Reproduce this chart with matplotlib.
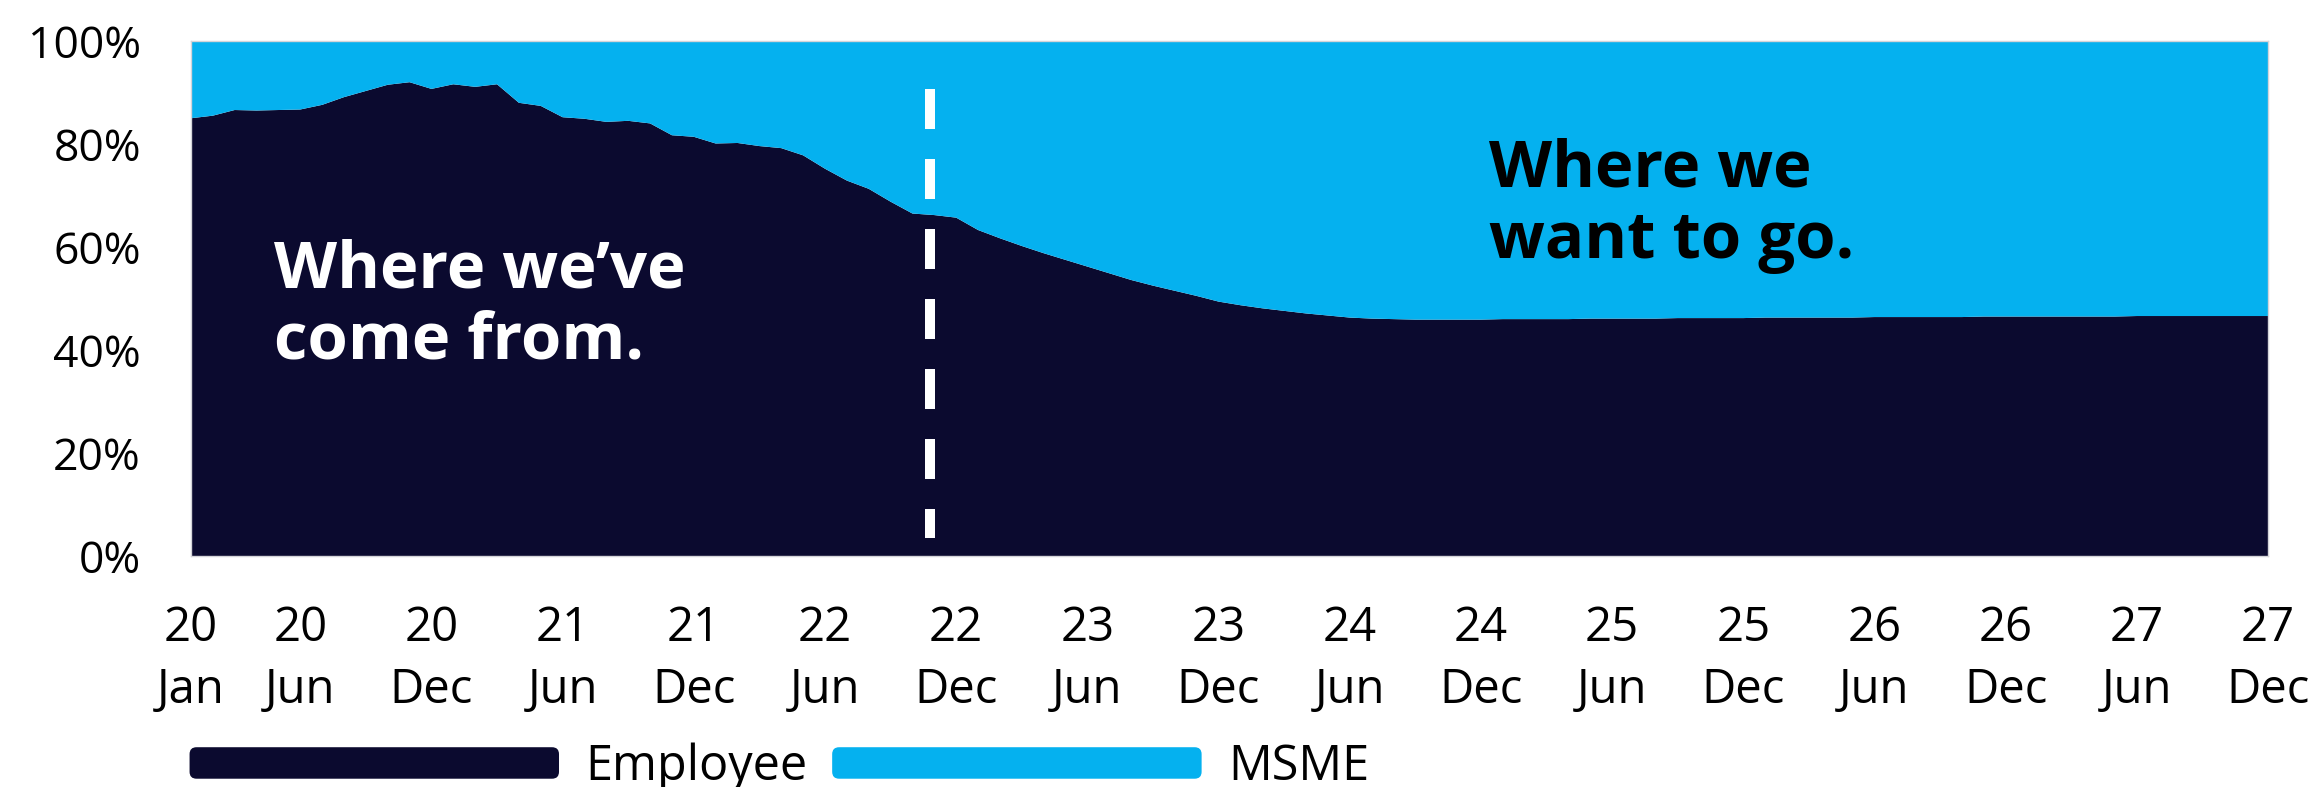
import matplotlib
matplotlib.use("Agg")
import matplotlib.pyplot as plt
import numpy as np
import pandas as pd
from matplotlib.patches import FancyBboxPatch, Patch
from matplotlib.legend_handler import HandlerPatch

plt.rcParams['font.family'] = ['Open Sans', 'DejaVu Sans']

# monthly series, Jan 2020 .. Dec 2027
months = pd.date_range('2020-01-01', '2027-12-01', freq='MS')

# employee share of the total (%), MSME is the rest
employee = [
    85.0, 85.5, 86.6, 86.5, 86.6, 86.7, 87.6, 89.1, 90.3, 91.5, 92.0, 90.7,   # 2020
    91.6, 91.1, 91.6, 88.0, 87.4, 85.2, 84.9, 84.3, 84.5, 84.0, 81.7, 81.4,   # 2021
    80.1, 80.2, 79.6, 79.2, 77.8, 75.2, 72.9, 71.3, 68.8, 66.5, 66.2, 65.7,   # 2022
    63.3, 61.7, 60.2, 58.8, 57.5, 56.2, 54.9, 53.6, 52.5, 51.5, 50.5, 49.4,   # 2023
    48.7, 48.1, 47.6, 47.1, 46.7, 46.3, 46.1, 46.0, 45.9, 45.9, 45.9, 45.9,   # 2024
    46.0, 46.0, 46.0, 46.0, 46.1, 46.1, 46.1, 46.1, 46.2, 46.2, 46.2, 46.2,   # 2025
    46.3, 46.3, 46.3, 46.3, 46.3, 46.4, 46.4, 46.4, 46.4, 46.4, 46.5, 46.5,   # 2026
    46.5, 46.5, 46.5, 46.5, 46.5, 46.6, 46.6, 46.6, 46.6, 46.6, 46.6, 46.6,   # 2027
]
employee = np.array(employee)
msme = 100 - employee

tick_dates = ['2020-01'] + [f'20{y}-{m}' for y in range(20, 28) for m in ('06', '12')]
tick_dates = pd.to_datetime(tick_dates)
split_month = 33.8   # where actuals stop and the projection starts

navy = '#0B0A2F'
sky = '#05B1EF'

x = np.arange(len(months))

fig = plt.figure(figsize=(23.2, 7.87), dpi=100)
ax = fig.add_axes([0.0823, 0.2935, 0.8953, 0.6544])

ax.stackplot(x, employee, msme, colors=[navy, sky], linewidth=0)

# dashed divider between history and projection
ax.plot([split_month, split_month], [90.7, 3.5], color='white', lw=7.2,
        dashes=(4, 3), solid_capstyle='butt', dash_capstyle='butt')

ax.set_xlim(0, len(months) - 1)
ax.set_ylim(0, 100)

tick_pos = [months.get_loc(d) for d in tick_dates]
ax.set_xticks(tick_pos)
ax.set_xticklabels([d.strftime('%y') + '\n' + d.strftime('%b') for d in tick_dates],
                   fontsize=34, linespacing=1.39)
ax.set_yticks(range(0, 101, 20))
ax.set_yticklabels([f'{v}%' for v in range(0, 101, 20)], fontsize=32)
ax.tick_params(axis='x', length=0, pad=35)
ax.tick_params(axis='y', length=0, pad=36)

for s in ax.spines.values():
    s.set_color('#d4d4d8')
    s.set_linewidth(1)

ax.text(0.040, 0.485, 'Where we\u2019ve\ncome from.', transform=ax.transAxes,
        color='white', fontsize=47, fontweight='bold', va='center', ha='left',
        linespacing=1.12)
ax.text(0.625, 0.68, 'Where we\nwant to go.', transform=ax.transAxes,
        color='black', fontsize=47, fontweight='bold', va='center', ha='left',
        linespacing=1.12)


def rounded_patch(legend, orig_handle, xdescent, ydescent, width, height, fontsize):
    return FancyBboxPatch((-xdescent, -ydescent), width, height,
                          boxstyle='round,pad=0,rounding_size=5',
                          facecolor=orig_handle.get_facecolor(), edgecolor='none')


handles = [Patch(facecolor=navy, label='Employee'), Patch(facecolor=sky, label='MSME')]
fig.legend(handles=handles, loc='center', bbox_to_anchor=(0.336, 0.025), ncol=2,
           frameon=False, fontsize=35, handlelength=7.6, handleheight=0.62,
           handletextpad=0.55, columnspacing=0.5, borderpad=0,
           handler_map={Patch: HandlerPatch(patch_func=rounded_patch)})

fig.savefig('out.png', dpi=100)
